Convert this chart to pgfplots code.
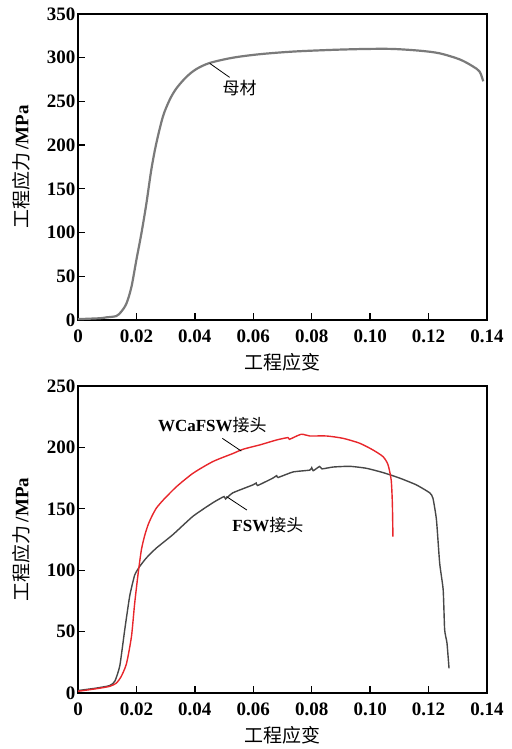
\documentclass[border=0pt]{standalone}
\usepackage{pgfplots}
\pgfplotsset{compat=1.18}
\usepackage{fontspec}
\setmainfont{Liberation Serif}
\newfontfamily\cjk{Noto Sans CJK SC}

\definecolor{basegray}{HTML}{7A7A7A}
\definecolor{fswgray}{HTML}{474747}
\definecolor{wred}{HTML}{E8262B}

\tikzset{lbl/.style={font=\fontsize{17}{20}\selectfont}}

\pgfplotsset{
  panel/.style={
    scale only axis, width=409pt,
    xmin=0, xmax=0.14,
    xtick={0,0.02,0.04,0.06,0.08,0.10,0.12,0.14},
    xticklabels={0,0.02,0.04,0.06,0.08,0.10,0.12,0.14},
    tick pos=left, tick align=inside,
    major tick length=7pt,
    axis line style={line width=1.5pt},
    every tick/.style={black, line width=1.3pt},
    tick label style={font=\fontsize{19}{22}\selectfont\bfseries},
    xticklabel style={yshift=-6pt},
    yticklabel style={xshift=1pt},
    xlabel={\cjk 工程应变},
    xlabel style={font=\fontsize{19}{22}\selectfont, yshift=-4pt},
    ylabel={{\cjk 工程应力}\,\textbf{/MPa}},
    ylabel style={font=\fontsize{19}{22}\selectfont, yshift=10pt},
    clip=false,
  },
}

\begin{document}
\begin{tikzpicture}
\path[use as bounding box] (0,0) rectangle (511pt,749pt);

% base metal
\begin{axis}[panel, at={(78pt,429pt)}, anchor=south west, height=306pt,
  ymin=0, ymax=350, ytick={0,50,100,150,200,250,300,350},
  yticklabels={0,50,100,150,200,250,300,350}]
\addplot[basegray, line width=2.2pt, smooth] coordinates {
(0,1) (0.0074,2) (0.0097,3) (0.0131,4.5) (0.0148,9.5) (0.0166,19) (0.0183,38)
(0.0200,69) (0.0217,99) (0.0234,133) (0.0251,172) (0.0268,202) (0.0291,233)
(0.0314,252) (0.0337,265) (0.0371,278) (0.0405,287) (0.0451,294) (0.0530,300)
(0.0622,304) (0.0736,307) (0.0873,309) (0.0987,310) (0.1078,310) (0.1170,308)
(0.1238,305) (0.1307,298) (0.1352,290) (0.1375,284) (0.1387,273)};
\draw[black, line width=0.8pt] (axis cs:0.0451,293.5) -- (axis cs:0.0519,277.5);
\node[lbl] at (axis cs:0.0553,265) {\cjk 母材};
\end{axis}

% joints
\begin{axis}[panel, at={(78pt,56pt)}, anchor=south west, height=307pt,
  ymin=0, ymax=250, ytick={0,50,100,150,200,250},
  yticklabels={0,50,100,150,200,250}]
\addplot[fswgray, line width=1.4pt, smooth, tension=0.3] coordinates {
(0,2) (0.0063,4) (0.0108,6) (0.0126,9.5) (0.0143,22) (0.0160,51.5) (0.0177,79)
(0.0194,96) (0.0211,103) (0.0234,110) (0.0268,118) (0.0325,129) (0.0394,144)
(0.0462,155) (0.0500,160) (0.0505,158) (0.0530,163) (0.0599,169.5) (0.0610,171)
(0.0615,169) (0.0667,175) (0.0680,177) (0.0685,175.5) (0.0736,180) (0.0793,181.5)
(0.0800,183.5) (0.0805,181) (0.0827,184.5) (0.0835,182.5) (0.0873,184) (0.0930,184.6)
(0.0987,183) (0.1044,179.5) (0.1101,175) (0.1158,169.5) (0.1204,163) (0.1215,158.6)
(0.1227,141) (0.1238,105.7) (0.1250,84) (0.1255,51.5) (0.1263,40.7) (0.1270,20)};
\addplot[wred, line width=1.4pt, smooth, tension=0.4] coordinates {
(0,1.4) (0.0063,3.5) (0.0108,5.4) (0.0131,8) (0.0148,13.5) (0.0166,24) (0.0183,46)
(0.0194,73) (0.0206,97.6) (0.0217,116.6) (0.0228,128) (0.0240,137) (0.0254,144.5)
(0.0268,150.5) (0.0280,154) (0.0295,158)
(0.0337,168) (0.0394,179) (0.0462,188.5) (0.0530,195) (0.0565,198.5) (0.0622,202)
(0.0679,206) (0.0719,208) (0.0724,206.6) (0.0764,210.7) (0.0793,209.3) (0.0850,209.3)
(0.0907,207.4) (0.0964,203.4) (0.1009,198) (0.1044,192.5) (0.1061,186) (0.1072,173.5)
(0.1076,154.6) (0.1078,127.4)};
\draw[black, line width=0.8pt] (axis cs:0.0494,207.4) -- (axis cs:0.0559,197);
\draw[black, line width=0.8pt] (axis cs:0.0508,160) -- (axis cs:0.0578,149);
\node[lbl] at (axis cs:0.0460,218.3) {\textbf{WCaFSW}{\cjk 接头}};
\node[lbl] at (axis cs:0.0650,137) {\textbf{FSW}{\cjk 接头}};
\end{axis}
\end{tikzpicture}
\end{document}
